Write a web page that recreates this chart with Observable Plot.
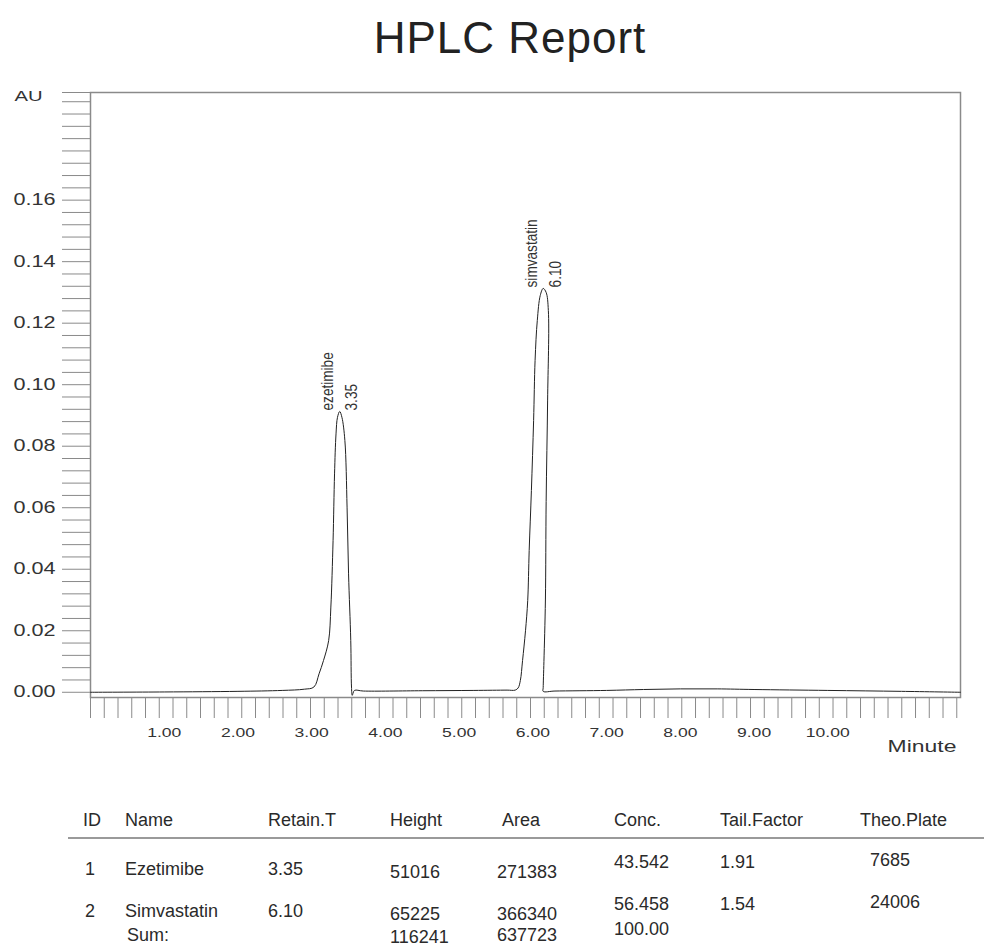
<!DOCTYPE html>
<html><head><meta charset="utf-8">
<script src="https://cdn.jsdelivr.net/npm/d3@7"></script>
<script src="https://cdn.jsdelivr.net/npm/@observablehq/plot@0.6"></script>
<style>
body{margin:0;background:#fff;font-family:"Liberation Sans",Arial,sans-serif;}
#page{position:relative;width:984px;height:949px;overflow:hidden;background:#fff;}
#title{position:absolute;left:18px;top:0;width:984px;height:75px;line-height:75px;text-align:center;font-size:44px;color:#222;letter-spacing:1px;}
#chart{position:absolute;left:0;top:75px;}
.cell{position:absolute;font-size:18px;color:#2a2a2a;white-space:nowrap;line-height:20px;transform:translateY(-50%);}
#rule{position:absolute;left:68px;top:837px;width:916px;height:2px;background:#9a9a9a;}
</style></head>
<body><div id="page"><div id="title">HPLC Report</div><div id="chart"></div><div id="rule"></div></div>
<script>
// Chromatogram trace (minutes, AU)
const traceTime = [0, 1.0, 2.0, 2.6, 2.9,
  3.03, 3.10, 3.16, 3.23, 3.26, 3.29, 3.31, 3.33, 3.35, 3.38, 3.41, 3.45, 3.48, 3.50, 3.53, 3.54, 3.55, 3.58,
  3.7, 4.5, 5.2, 5.65,
  5.76, 5.80, 5.83, 5.86, 5.90, 5.93, 5.95, 5.98, 6.01, 6.03, 6.06, 6.10, 6.14, 6.18, 6.21, 6.20, 6.18, 6.17, 6.15, 6.14, 6.14,
  6.3, 7.0, 7.5, 8.0, 8.5, 9.0, 10.0, 11.0, 11.8];
const traceAU = [0.0000, 0.0001, 0.0003, 0.0006, 0.0010,
  0.0017, 0.0060, 0.0103, 0.0168, 0.0277, 0.0493, 0.0710, 0.0840, 0.0894, 0.0913, 0.0894, 0.0819, 0.0602, 0.0385, 0.0168, 0.0017, -0.0010, 0.0006,
  0.0004, 0.0005, 0.0006, 0.0007,
  0.0007, 0.0014, 0.0038, 0.0103, 0.0200, 0.0298, 0.0461, 0.0656, 0.0884, 0.1079, 0.1209, 0.1290, 0.1313, 0.1300, 0.1241, 0.0950, 0.0620, 0.0300, 0.0100, 0.0015, 0.0003,
  0.0004, 0.0006, 0.0009, 0.0011, 0.0011, 0.0009, 0.0006, 0.0003, 0.0000];

// Peak annotations
const peakNames = ["ezetimibe", "simvastatin"];
const peakRT = [3.35, 6.10];
const peakApexTime = [3.38, 6.15];
const peakApexAU = [0.0913, 0.1313];

// Axis ticks
const xLabelTicks = [1, 2, 3, 4, 5, 6, 7, 8, 9, 10];
const xMinorTicks = d3.range(64).map(i => i * 0.1865);
const yTicks = d3.range(49).map(i => +(i * 0.004).toFixed(3)).concat([0.195]);
const yLabelMax = 0.16;

// Results table
const tableHeaders = ["ID", "Name", "Retain.T", "Height", "Area", "Conc.", "Tail.Factor", "Theo.Plate"];
const compoundIds = [1, 2];
const compoundNames = ["Ezetimibe", "Simvastatin"];
const retentionTimes = [3.35, 6.10];
const peakHeights = [51016, 65225];
const peakAreas = [271383, 366340];
const concentrations = [43.542, 56.458];
const tailFactors = [1.91, 1.54];
const theoPlates = [7685, 24006];
const sumLabel = "Sum:";
const sumHeight = 116241;
const sumArea = 637723;
const sumConc = 100.00;

const trace = traceTime.map((t, i) => ({t, a: traceAU[i]}));
const peaks = peakNames.map((name, i) => ({name, rt: peakRT[i], t: peakApexTime[i], a: peakApexAU[i]}));

const fmtY = d => {
  const k = Math.round(d / 0.02);
  return Math.abs(d - k * 0.02) < 1e-9 && d <= yLabelMax + 1e-9 ? d.toFixed(2) : "";
};

const plot = Plot.plot({
  width: 984, height: 690,
  marginLeft: 90, marginRight: 24, marginTop: 17, marginBottom: 68,
  x: {domain: [0, 11.8]},
  y: {domain: [-0.0017, 0.195]},
  style: {fontFamily: "Liberation Sans, Arial, sans-serif", background: "white", color: "#333", overflow: "visible"},
  marks: [
    Plot.axisY({ticks: yTicks, tickSize: 28, tickPadding: 7, tickFormat: fmtY, stroke: "#8a8a8a", fill: "#333", fontSize: 16, label: null}),
    Plot.axisX({ticks: xMinorTicks, tickSize: 21, tickFormat: () => "", stroke: "#8a8a8a", label: null}),
    Plot.axisX({ticks: xLabelTicks, tickSize: 0, tickPadding: 30, tickFormat: d => d.toFixed(2), fill: "#333", fontSize: 13, label: null}),
    Plot.frame({stroke: "#8a8a8a", strokeWidth: 1.5}),
    Plot.line(trace, {x: "t", y: "a", stroke: "#222", strokeWidth: 1, curve: "catmull-rom"}),
    Plot.text(peaks, {x: "t", y: "a", text: "name", rotate: -90, textAnchor: "start", lineAnchor: "middle", dx: -12, dy: -1, fontSize: 16, fill: "#333"}),
    Plot.text(peaks, {x: "t", y: "a", text: d => d.rt.toFixed(2), rotate: -90, textAnchor: "start", lineAnchor: "middle", dx: 12, dy: -1, fontSize: 16, fill: "#333"}),
    Plot.text(["AU"], {frameAnchor: "top-left", textAnchor: "start", lineAnchor: "middle", dx: -76, dy: 4, fontSize: 15, fill: "#333"}),
    Plot.text(["Minute"], {frameAnchor: "bottom-right", textAnchor: "end", lineAnchor: "middle", dx: -4, dy: 49, fontSize: 17, fill: "#333"})
  ]
});
document.getElementById("chart").append(plot);

// widen the axis lettering and narrow the peak labels like the original print
plot.querySelectorAll("text").forEach(t => {
  const len = t.getComputedTextLength();
  if (!len) return;
  const rotated = /rotate/.test(t.getAttribute("transform") || "") || /rotate/.test((t.parentNode && t.parentNode.getAttribute("transform")) || "");
  const k = rotated ? 0.85 : 1.35;
  t.setAttribute("textLength", len * k);
  t.setAttribute("lengthAdjust", "spacingAndGlyphs");
});

// table
const page = document.getElementById("page");
function cell(text, x, y) {
  const d = document.createElement("div");
  d.className = "cell";
  d.textContent = text;
  d.style.left = x + "px";
  d.style.top = y + "px";
  page.appendChild(d);
}
const headerX = [83, 125, 268, 390, 502, 614, 720, 860];
const valueX = [85, 125, 268, 390, 497, 614, 720, 870];
const colDy = [0, 0, 0, 3, 3, -7, -7, -9];
tableHeaders.forEach((h, i) => cell(h, headerX[i], 820));
const rowY = [869, 911];
compoundIds.forEach((id, r) => {
  const vals = [String(id), compoundNames[r], retentionTimes[r].toFixed(2), String(peakHeights[r]), String(peakAreas[r]),
    concentrations[r].toFixed(3), tailFactors[r].toFixed(2), String(theoPlates[r])];
  vals.forEach((v, i) => cell(v, valueX[i], rowY[r] + colDy[i]));
});
cell(sumLabel, 127, 935);
cell(String(sumHeight), valueX[3], 937);
cell(String(sumArea), valueX[4], 935);
cell(sumConc.toFixed(2), valueX[5], 929);
</script>
</body></html>
